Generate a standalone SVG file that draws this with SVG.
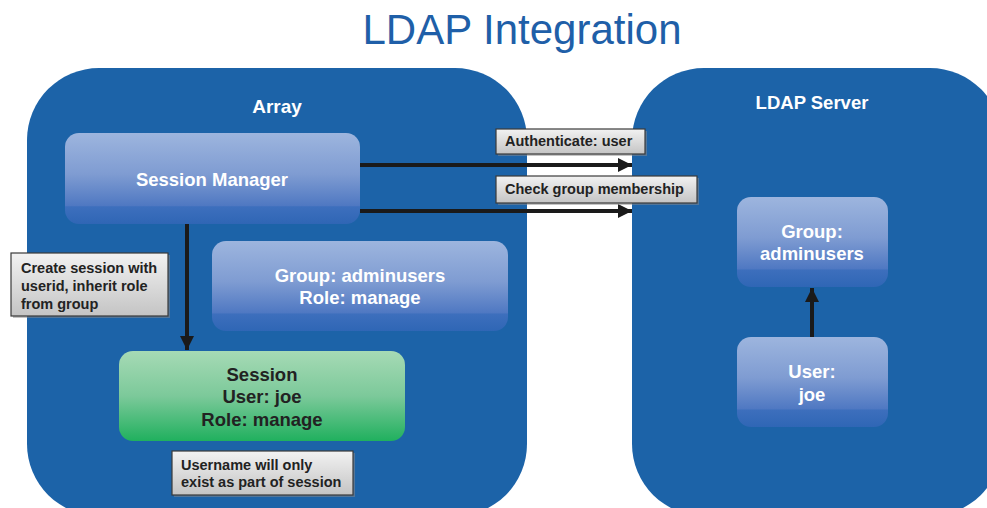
<svg xmlns="http://www.w3.org/2000/svg" width="987" height="508" viewBox="0 0 987 508">
<defs>
<linearGradient id="gBlue" x1="0" y1="0" x2="0" y2="1">
<stop offset="0" stop-color="#9db5de"/>
<stop offset="0.45" stop-color="#7f9cd2"/>
<stop offset="0.8" stop-color="#4f78c2"/>
<stop offset="0.81" stop-color="#3d6fbd"/>
<stop offset="1" stop-color="#2f66b5"/>
</linearGradient>
<linearGradient id="gGreen" x1="0" y1="0" x2="0" y2="1">
<stop offset="0" stop-color="#a6dab5"/>
<stop offset="0.5" stop-color="#7cc99a"/>
<stop offset="1" stop-color="#20b05e"/>
</linearGradient>
<linearGradient id="gGray" x1="0" y1="0" x2="0" y2="1">
<stop offset="0" stop-color="#f2f2f2"/>
<stop offset="1" stop-color="#c4c4c4"/>
</linearGradient>
<marker id="arr" viewBox="0 0 10 10" refX="10" refY="5" markerWidth="3.5" markerHeight="3.5" orient="auto" markerUnits="strokeWidth">
<path d="M0,0 L10,5 L0,10 Z" fill="#1a1a1a"/>
</marker>
</defs>
<style>
.cont{fill:#1c63a8}
.box{fill:url(#gBlue)}
.wt{fill:#ffffff;font-family:"Liberation Sans",Arial,sans-serif;font-weight:bold;text-anchor:middle}
.dk{fill:#222222;font-family:"Liberation Sans",Arial,sans-serif;font-weight:bold;text-anchor:middle}
.lbl{fill:url(#gGray);stroke:#3a3a3a;stroke-width:1.2}
.sh{fill:#8a8a8a;opacity:0.5}
.lt{fill:#222222;font-family:"Liberation Sans",Arial,sans-serif;font-weight:bold;font-size:14.5px}
.con{stroke:#1a1a1a;stroke-width:4;fill:none;marker-end:url(#arr)}
</style>
<rect width="987" height="508" fill="#ffffff"/>
<text x="522" y="44" font-family="Liberation Sans,Arial,sans-serif" font-size="42" fill="#1f5fa8" text-anchor="middle">LDAP Integration</text>

<g id="array">
<rect class="cont" x="27" y="68" width="500" height="448" rx="72"/>
<text class="wt" x="277" y="113" font-size="19">Array</text>
</g>
<g id="ldap-server">
<rect class="cont" x="632" y="68" width="370" height="448" rx="72"/>
<text class="wt" x="812" y="109" font-size="18.5">LDAP Server</text>
</g>

<g id="session-manager">
<rect class="box" x="65" y="133" width="295" height="91" rx="14"/>
<text class="wt" x="212" y="186" font-size="18.5">Session Manager</text>
</g>
<g id="array-group">
<rect class="box" x="212" y="241" width="296" height="90" rx="14"/>
<text class="wt" x="360" y="282" font-size="18.5">Group: adminusers</text>
<text class="wt" x="360" y="304" font-size="18.5">Role: manage</text>
</g>
<g id="session">
<rect fill="url(#gGreen)" x="119" y="351" width="286" height="90" rx="14"/>
<text class="dk" x="262" y="381" font-size="18.5">Session</text>
<text class="dk" x="262" y="403" font-size="18.5">User: joe</text>
<text class="dk" x="262" y="426" font-size="18.5">Role: manage</text>
</g>
<g id="ldap-group">
<rect class="box" x="737" y="197" width="151" height="90" rx="14"/>
<text class="wt" x="812" y="238" font-size="18.5">Group:</text>
<text class="wt" x="812" y="260" font-size="18.5">adminusers</text>
</g>
<g id="ldap-user">
<rect class="box" x="737" y="337" width="151" height="90" rx="14"/>
<text class="wt" x="812" y="378" font-size="18.5">User:</text>
<text class="wt" x="812" y="401" font-size="18.5">joe</text>
</g>

<g id="connectors">
<line class="con" x1="360" y1="165" x2="632" y2="165"/>
<line class="con" x1="360" y1="211" x2="632" y2="211"/>
<line class="con" x1="187" y1="224" x2="187" y2="350"/>
<line class="con" x1="812" y1="337" x2="812" y2="288"/>
</g>

<g id="label-authenticate">
<rect class="sh" x="498" y="131" width="149" height="25"/>
<rect class="lbl" x="496" y="129" width="149" height="25"/>
<text class="lt" x="505" y="146">Authenticate: user</text>
</g>
<g id="label-check">
<rect class="sh" x="498" y="178" width="201" height="27"/>
<rect class="lbl" x="496" y="176" width="201" height="27"/>
<text class="lt" x="505" y="194">Check group membership</text>
</g>
<g id="label-create">
<rect class="sh" x="13" y="255" width="157" height="63"/>
<rect class="lbl" x="11" y="253" width="157" height="63"/>
<text class="lt" x="21" y="273">Create session with</text>
<text class="lt" x="21" y="291">userid, inherit role</text>
<text class="lt" x="21" y="309">from group</text>
</g>
<g id="label-username">
<rect class="sh" x="174" y="453" width="181" height="44"/>
<rect class="lbl" x="172" y="451" width="181" height="44"/>
<text class="lt" x="181" y="470">Username will only</text>
<text class="lt" x="181" y="487">exist as part of session</text>
</g>
</svg>
